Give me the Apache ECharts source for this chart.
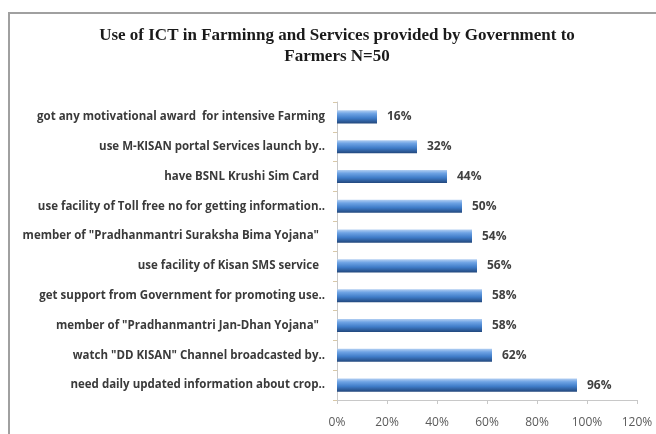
<!DOCTYPE html>
<html>
<head>
<meta charset="utf-8">
<script src="https://cdn.jsdelivr.net/npm/echarts@6/dist/echarts.min.js"></script>
<style>
  html, body { margin: 0; padding: 0; background: #ffffff; }
  #chart { width: 656px; height: 434px; }
</style>
</head>
<body>
<div id="chart"></div>
<script>
// Survey items, listed top to bottom
const categories = [
  'got any motivational award  for intensive Farming',
  'use M-KISAN portal Services launch by..',
  'have BSNL Krushi Sim Card  ',
  'use facility of Toll free no for getting information..',
  'member of "Pradhanmantri Suraksha Bima Yojana"  ',
  'use facility of Kisan SMS service  ',
  'get support from Government for promoting use..',
  'member of "Pradhanmantri Jan-Dhan Yojana"  ',
  'watch "DD KISAN" Channel broadcasted by..',
  'need daily updated information about crop..'
];
// Share of farmers (%) for each item
const percents = [16, 32, 44, 50, 54, 56, 58, 58, 62, 96];
// Horizontal axis settings (percent)
const axisMin = 0;
const axisMax = 120;
const axisStep = 20;

const titleLines = [
  'Use of ICT in Farminng and Services provided by Government to',
  'Farmers N=50'
];

const chart = echarts.init(document.getElementById('chart'), null, { renderer: 'canvas' });

const barFill = new echarts.graphic.LinearGradient(0, 0, 0, 1, [
  { offset: 0, color: '#b3cff2' },
  { offset: 0.25, color: '#6ea3e4' },
  { offset: 0.6, color: '#3f7cc8' },
  { offset: 1, color: '#22477c' }
]);

const titleFont = 'bold 17px "Liberation Serif", "DejaVu Serif", serif';

chart.setOption({
  backgroundColor: '#ffffff',
  animation: false,
  graphic: [
    {
      type: 'rect',
      shape: { x: 9, y: 13, width: 700, height: 500 },
      style: { fill: 'none', stroke: '#a0a0a0', lineWidth: 2 },
      z: 0
    },
    {
      type: 'text',
      style: {
        text: titleLines[0], x: 337, y: 36,
        textAlign: 'center', textVerticalAlign: 'middle',
        font: titleFont, fill: '#1a1a1a'
      }
    },
    {
      type: 'text',
      style: {
        text: titleLines[1], x: 337, y: 57,
        textAlign: 'center', textVerticalAlign: 'middle',
        font: titleFont, fill: '#1a1a1a'
      }
    }
  ],
  grid: { left: 337, right: 19, top: 102, bottom: 34, containLabel: false },
  xAxis: {
    type: 'value',
    min: axisMin,
    max: axisMax,
    interval: axisStep,
    axisLine: { show: true, lineStyle: { color: '#c8c8c8', width: 1 } },
    axisTick: { show: true, length: 4, lineStyle: { color: '#c8c8c8' } },
    splitLine: { show: false },
    axisLabel: {
      formatter: '{value}%',
      color: '#5a5a5a',
      fontSize: 12,
      fontFamily: '"Open Sans", "Liberation Sans", sans-serif',
      margin: 17
    }
  },
  yAxis: {
    type: 'category',
    inverse: true,
    data: categories,
    axisLine: { show: true, lineStyle: { color: '#c8c8c8', width: 1 } },
    axisTick: { show: true, length: 4, lineStyle: { color: '#d8c8a8' } },
    axisLabel: {
      color: '#3a3a3a',
      fontSize: 11.5,
      fontWeight: 'bold',
      fontFamily: '"Open Sans", "Liberation Sans", sans-serif',
      margin: 12
    }
  },
  series: [{
    type: 'bar',
    data: percents,
    barWidth: '44%',
    itemStyle: { color: barFill },
    label: {
      show: true,
      position: 'right',
      distance: 10,
      formatter: '{c}%',
      color: '#404040',
      fontSize: 12,
      fontWeight: 'bold',
      fontFamily: '"Open Sans", "Liberation Sans", sans-serif'
    }
  }]
});
</script>
</body>
</html>
